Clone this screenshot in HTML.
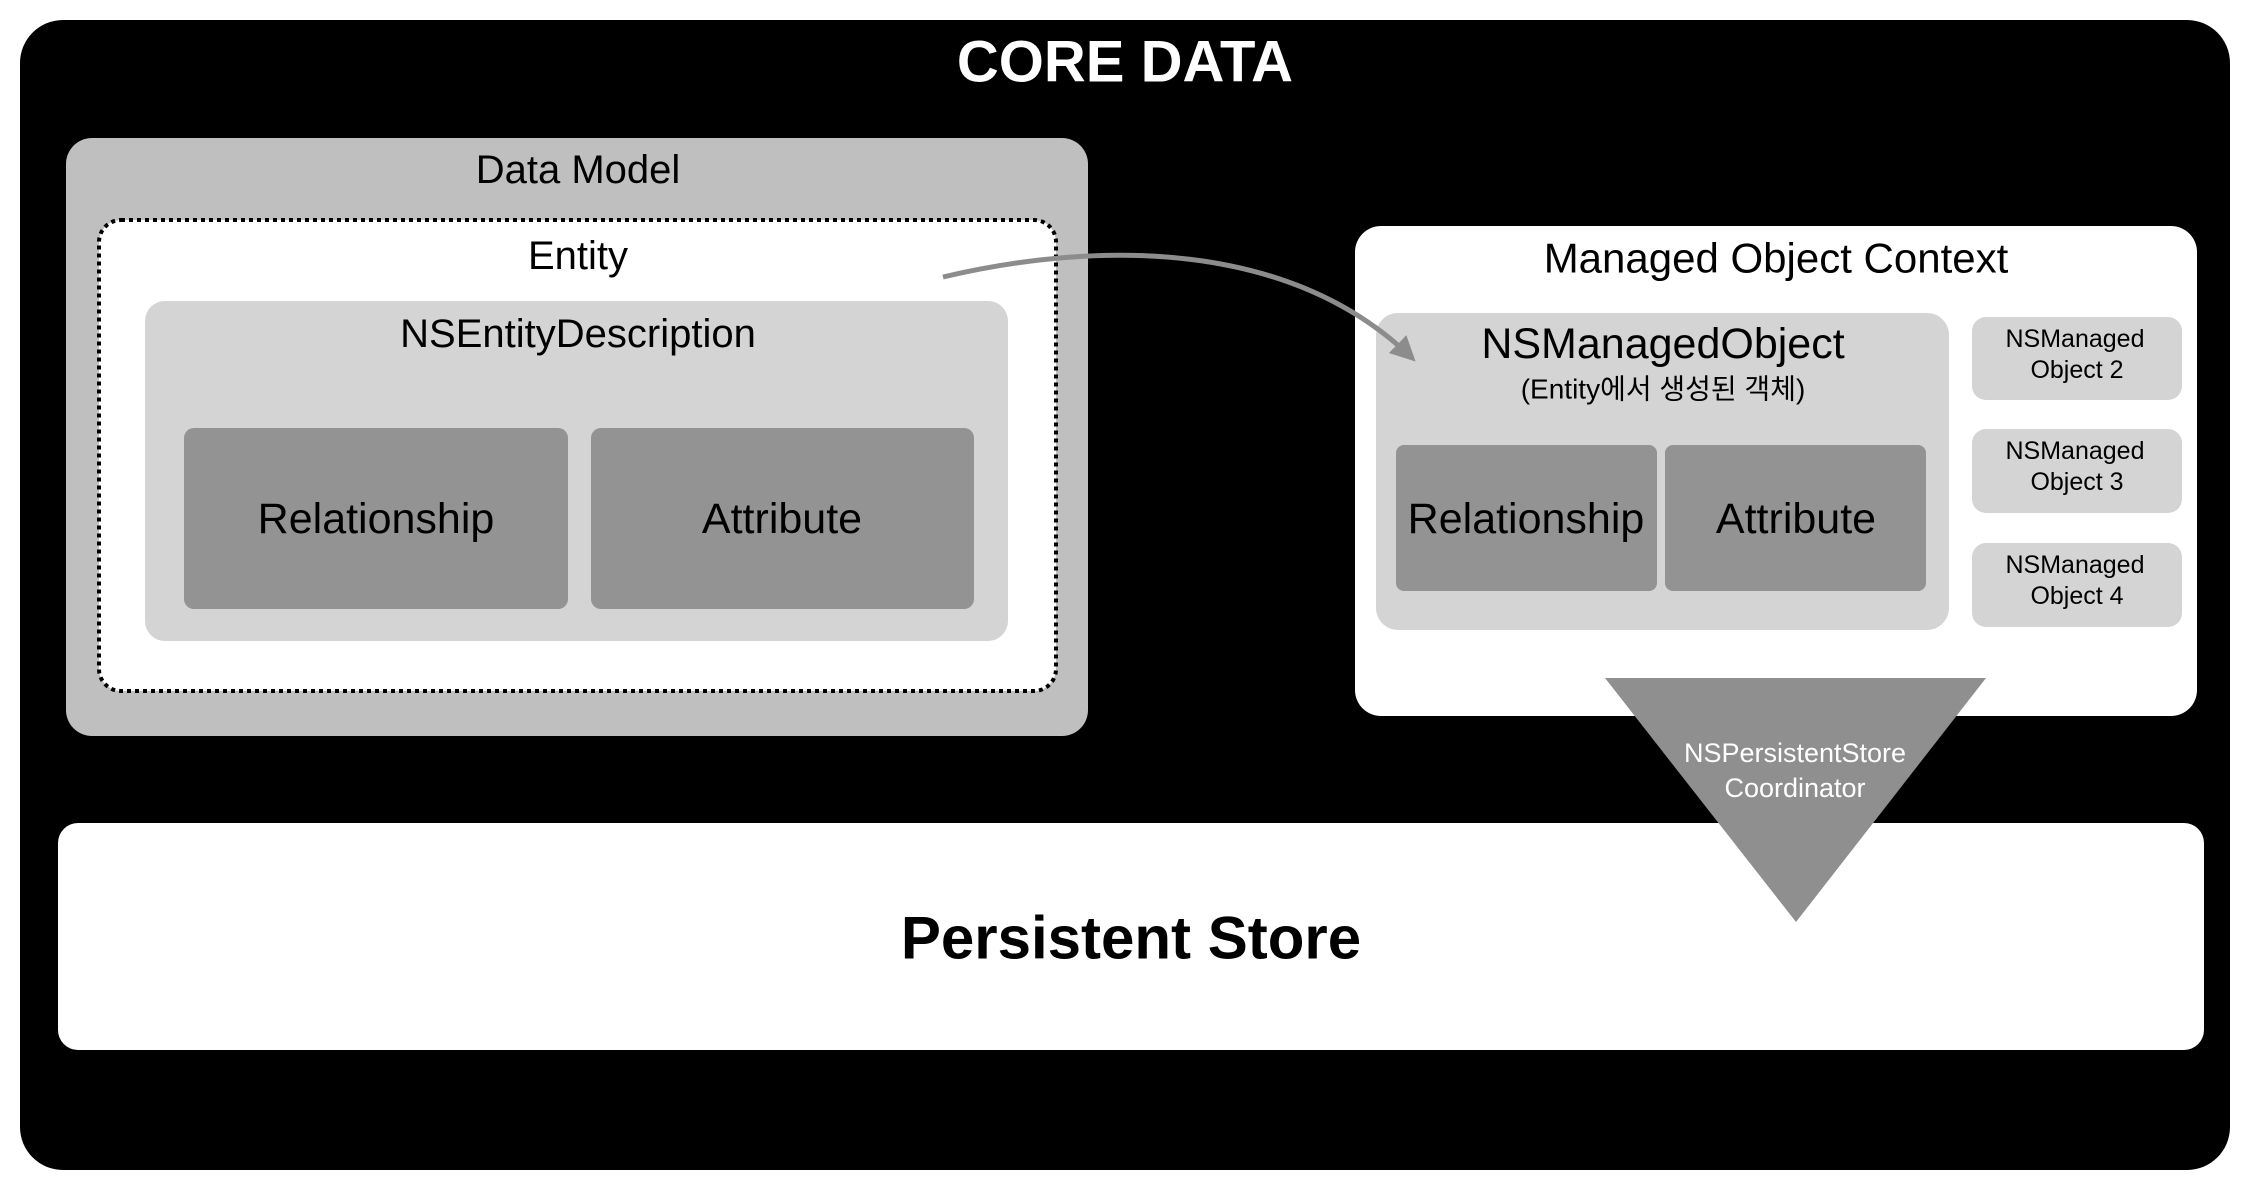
<!DOCTYPE html>
<html><head><meta charset="utf-8"><style>
html,body{margin:0;padding:0;background:#fff;width:2250px;height:1186px;overflow:hidden}
svg text{font-family:"Liberation Sans","Noto Sans CJK KR",sans-serif;text-anchor:middle;dominant-baseline:central}
</style></head><body>
<svg width="2250" height="1186" viewBox="0 0 2250 1186" xmlns="http://www.w3.org/2000/svg">
<defs>
<marker id="ah" viewBox="0 0 10 10" refX="8" refY="5" markerWidth="5" markerHeight="5" orient="auto" markerUnits="strokeWidth">
<path d="M0,0 L10,5 L0,10 z" fill="#8c8c8c"/></marker>
</defs>
<rect x="20" y="20" width="2210" height="1150" rx="43" fill="#000"/>
<text x="1125" y="62" font-size="58" font-weight="bold" fill="#fff">CORE DATA</text>

<rect x="66" y="138" width="1022" height="598" rx="26" fill="#bfbfbf"/>
<text x="578" y="170" font-size="40" fill="#000">Data Model</text>
<rect x="99" y="220" width="957" height="471" rx="22" fill="#fff" stroke="#000" stroke-width="4" stroke-dasharray="4 4"/>
<text x="578" y="256" font-size="40" fill="#000">Entity</text>
<rect x="145" y="301" width="863" height="340" rx="20" fill="#d4d4d4"/>
<text x="578" y="334" font-size="40" fill="#000">NSEntityDescription</text>
<rect x="184" y="428" width="384" height="181" rx="10" fill="#939393"/>
<text x="376" y="519" font-size="43" fill="#000">Relationship</text>
<rect x="591" y="428" width="383" height="181" rx="10" fill="#939393"/>
<text x="782" y="519" font-size="43" fill="#000">Attribute</text>

<rect x="1355" y="226" width="842" height="490" rx="26" fill="#fff"/>
<text x="1776" y="258" font-size="42" fill="#000">Managed Object Context</text>
<rect x="1376" y="313" width="573" height="317" rx="22" fill="#d4d4d4"/>
<text x="1663" y="344" font-size="43" fill="#000">NSManagedObject</text>
<text x="1663" y="389" font-size="28" fill="#000">(Entity에서 생성된 객체)</text>
<rect x="1396" y="445" width="261" height="146" rx="8" fill="#939393"/>
<text x="1526" y="519" font-size="43" fill="#000">Relationship</text>
<rect x="1665" y="445" width="261" height="146" rx="8" fill="#939393"/>
<text x="1796" y="519" font-size="43" fill="#000">Attribute</text>

<rect x="1972" y="317" width="210" height="83" rx="14" fill="#d4d4d4"/>
<text x="2075" y="339" font-size="25" fill="#000">NSManaged</text><text x="2077" y="370" font-size="25" fill="#000">Object 2</text>
<rect x="1972" y="429" width="210" height="84" rx="14" fill="#d4d4d4"/>
<text x="2075" y="451" font-size="25" fill="#000">NSManaged</text><text x="2077" y="482" font-size="25" fill="#000">Object 3</text>
<rect x="1972" y="543" width="210" height="84" rx="14" fill="#d4d4d4"/>
<text x="2075" y="565" font-size="25" fill="#000">NSManaged</text><text x="2077" y="596" font-size="25" fill="#000">Object 4</text>

<rect x="58" y="823" width="2146" height="227" rx="20" fill="#fff"/>
<text x="1131" y="938" font-size="60" font-weight="bold" fill="#000">Persistent Store</text>

<polygon points="1605,678 1986,678 1796,922" fill="#8f8f8f"/>
<text x="1795" y="753" font-size="27" fill="#fff">NSPersistentStore</text>
<text x="1795" y="788" font-size="27" fill="#fff">Coordinator</text>

<path d="M943,277 C1100,240 1290,240 1412,358" fill="none" stroke="#8c8c8c" stroke-width="5" marker-end="url(#ah)"/>
</svg>
</body></html>
